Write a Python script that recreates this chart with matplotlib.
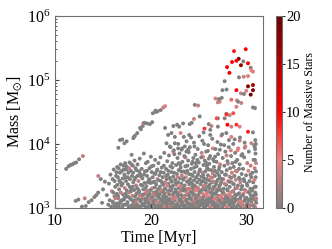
import numpy as np
import matplotlib
matplotlib.use('Agg')
import matplotlib.pyplot as plt
from matplotlib.colors import LinearSegmentedColormap

plt.rcParams['font.family'] = 'serif'
plt.rcParams['font.serif'] = ['Liberation Serif', 'DejaVu Serif']
plt.rcParams['mathtext.fontset'] = 'stix'

# ===============
# data: time [Myr], log10 mass [Msun], number of massive stars
# ===============
# early thin sequence
t_early = [11.15, 11.4, 11.6, 11.8, 12.0, 12.2, 12.5, 12.9]
m_early = [3.61, 3.65, 3.67, 3.68, 3.70, 3.71, 3.76, 3.81]
n_early = [0, 0, 0, 0, 0, 0, 0, 3]

# upper rising sequence
t_rise = [16.6, 16.77, 17.01, 17.23, 17.47, 17.99, 18.17, 18.23, 18.35, 18.58,
          18.87, 18.96, 19.15, 19.2, 19.32, 19.6, 19.9, 20.14, 20.2, 20.47,
          20.52, 20.7, 21.02, 21.3, 21.48]
m_rise = [3.94, 4.06, 4.07, 4.01, 4.04, 3.83, 4.09, 4.11, 4.13, 4.17,
          4.25, 4.23, 4.28, 4.32, 4.33, 4.32, 4.31, 4.34, 4.48, 4.52,
          4.50, 4.51, 4.53, 4.57, 4.59]
n_rise = [0, 0, 0, 0, 0, 0, 0, 0, 0, 0,
          0, 0, 0, 4, 0, 0, 0, 0, 0, 0,
          0, 0, 0, 3, 4]

# sparse low points on the left
t_left = [12.15, 12.43, 12.8, 13.1, 13.5, 13.8, 14.1, 14.3, 14.5, 14.5,
          14.76, 14.9, 15.0, 15.2, 13.2, 15.4]
m_left = [3.11, 3.13, 3.02, 3.15, 3.09, 3.12, 3.17, 3.20, 3.24, 3.50,
          3.45, 3.08, 3.29, 3.41, 3.03, 3.20]
n_left = [0, 0, 0, 3, 0, 0, 0, 0, 0, 3,
          0, 0, 0, 0, 0, 0]

# massive clusters at late times
t_top = [28.68, 29.9, 29.17, 28.93, 28.47, 29.65, 30.14, 29.4, 30.42, 27.95,
         30.49, 30.66, 28.2, 29.2, 29.69, 30.14, 27.7, 30.14, 30.66, 28.93,
         27.47, 30.66, 29.96, 29.4, 29.72, 30.42, 26.74, 27.19, 28.99, 29.44,
         30.66, 30.87]
m_top = [5.45, 5.48, 5.33, 5.30, 5.28, 5.29, 5.26, 5.23, 5.19, 5.20,
         5.15, 5.13, 5.11, 5.04, 5.05, 5.06, 4.98, 4.90, 4.92, 4.84,
         4.84, 4.84, 4.83, 4.79, 4.78, 4.77, 4.71, 4.66, 4.68, 4.64,
         4.57, 4.56]
n_top = [9, 10, 18, 11, 10, 0, 11, 17, 0, 10,
         5, 4, 11, 0, 3, 4, 0, 18, 16, 10,
         0, 18, 4, 3, 0, 19, 4, 4, 4, 3,
         0, 0]

# intermediate masses (1e4 - 5e4)
t_upper = [21.80, 22.15, 22.50, 22.74, 22.95, 23.36, 23.10, 23.44, 23.72, 24.00,
           21.63, 21.98, 22.32, 22.50, 22.84, 23.20, 23.54, 23.88, 24.58, 24.93,
           27.00, 27.10, 29.10, 28.93, 25.10, 24.50, 24.06, 26.04, 26.32, 27.00,
           27.88, 28.23, 27.70, 27.00, 27.99, 28.40, 28.93, 29.27, 30.14, 30.66,
           25.60, 27.36, 27.88, 28.40, 28.75, 29.27, 29.79, 30.49, 30.83, 21.48,
           26.87, 27.40, 27.90, 28.40, 27.90, 28.60, 25.50, 26.20, 24.26, 22.35]
m_upper = [4.14, 4.17, 4.11, 4.30, 4.27, 4.32, 4.17, 4.11, 4.04, 4.14,
           4.01, 3.96, 3.88, 4.01, 3.93, 3.91, 3.96, 3.91, 4.61, 4.60,
           4.65, 4.70, 4.66, 4.58, 4.43, 4.39, 4.31, 4.31, 4.28, 4.27,
           4.47, 4.45, 4.40, 4.40, 4.30, 4.27, 4.30, 4.27, 4.19, 4.18,
           4.24, 4.13, 4.17, 4.11, 4.07, 4.05, 4.02, 4.01, 3.96, 4.25,
           4.40, 4.72, 4.85, 4.69, 4.46, 4.48, 4.18, 4.22, 4.33, 4.28]
n_upper = [0, 0, 0, 0, 0, 0, 4, 0, 0, 0,
           0, 0, 5, 0, 0, 0, 0, 0, 0, 3,
           3, 0, 0, 4, 0, 3, 0, 0, 3, 0,
           0, 3, 0, 0, 10, 3, 8, 4, 9, 0,
           8, 3, 0, 4, 0, 3, 0, 3, 0, 0,
           7, 0, 0, 6, 8, 7, 0, 0, 0, 0]

# middle band (5e3 - 1.3e4)
t_mid = [22.05, 22.45, 22.85, 23.25, 23.60, 23.95, 24.20, 24.55, 24.85, 25.05,
         25.30, 25.55, 25.75, 25.95, 26.20, 26.45, 26.70, 26.95, 27.20, 27.45,
         27.65, 27.90, 28.15, 28.35, 28.60, 28.85, 29.05, 29.30, 29.55, 29.80,
         24.70, 25.85, 26.60, 23.05, 24.35, 25.45, 26.05, 27.15, 28.05, 29.20]
m_mid = [3.95, 3.84, 4.00, 3.93, 3.79, 3.87, 4.10, 3.96, 3.75, 4.12,
         3.86, 4.00, 3.71, 3.89, 4.14, 3.93, 3.80, 4.03, 3.91, 4.15,
         3.98, 3.82, 4.06, 3.90, 4.00, 3.72, 3.90, 4.10, 3.84, 3.94,
         3.70, 3.66, 3.73, 3.68, 3.72, 3.80, 3.77, 3.64, 3.69, 3.61]
n_mid = [0, 0, 0, 0, 3, 0, 0, 0, 0, 0,
         3, 0, 0, 0, 0, 4, 0, 0, 0, 0,
         0, 3, 0, 4, 0, 0, 5, 0, 0, 3,
         0, 0, 0, 0, 0, 4, 0, 0, 3, 0]

# dense low-mass cloud, 16 - 20 Myr
t_low1 = [15.55, 15.62, 15.70, 15.78, 15.85, 15.93, 16.00, 16.05, 16.12, 16.20,
          16.27, 16.33, 16.40, 16.45, 16.48,
          16.52, 16.55, 16.60, 16.63, 16.68, 16.72, 16.75, 16.80, 16.84, 16.88,
          16.93, 16.97, 17.02, 17.06, 17.10, 17.15, 17.19, 17.23, 17.28, 17.31,
          17.35, 17.40, 17.43, 17.47, 17.49,
          17.52, 17.56, 17.60, 17.64, 17.69, 17.73, 17.77, 17.81, 17.86, 17.90,
          17.94, 17.98, 18.03, 18.07, 18.11, 18.16, 18.20, 18.25, 18.29, 18.33,
          18.37, 18.41, 18.45, 18.48, 18.50,
          18.53, 18.57, 18.61, 18.66, 18.70, 18.74, 18.79, 18.83, 18.87, 18.91,
          18.95, 18.99, 19.04, 19.08, 19.12, 19.17, 19.21, 19.26, 19.30, 19.34,
          19.38, 19.42, 19.45, 19.48, 19.50]
m_low1 = [3.05, 3.38, 3.12, 3.52, 3.02, 3.26, 3.45, 3.08, 3.60, 3.18,
          3.33, 3.01, 3.56, 3.22, 3.64,
          3.04, 3.48, 3.15, 3.62, 3.29, 3.07, 3.55, 3.40, 3.68, 3.11,
          3.35, 3.58, 3.02, 3.46, 3.21, 3.66, 3.13, 3.52, 3.31, 3.70,
          3.05, 3.42, 3.60, 3.18, 3.27,
          3.63, 3.09, 3.37, 3.55, 3.01, 3.24, 3.71, 3.45, 3.14, 3.58,
          3.30, 3.04, 3.50, 3.19, 3.66, 3.40, 3.07, 3.28, 3.74, 3.12,
          3.47, 3.02, 3.35, 3.59, 3.22,
          3.05, 3.31, 3.68, 3.14, 3.42, 3.02, 3.25, 3.77, 3.53, 3.10,
          3.36, 3.20, 3.61, 3.04, 3.46, 3.16, 3.29, 3.85, 3.07, 3.39,
          3.57, 3.12, 3.23, 3.70, 3.01]
n_low1 = [0, 0, 0, 0, 0, 3, 0, 0, 0, 0,
          0, 0, 0, 0, 0,
          0, 0, 2, 0, 0, 0, 0, 0, 0, 0,
          0, 3, 0, 0, 0, 0, 0, 0, 3, 0,
          0, 0, 0, 0, 0,
          0, 0, 0, 0, 0, 3, 0, 0, 0, 0,
          0, 0, 0, 3, 0, 0, 0, 0, 0, 0,
          0, 0, 2, 0, 0,
          0, 0, 0, 0, 3, 0, 0, 0, 0, 0,
          0, 0, 0, 0, 0, 4, 0, 0, 0, 0,
          0, 0, 3, 0, 0]

# dense low-mass cloud, 19.5 - 23.5 Myr
t_low2 = [19.53, 19.56, 19.60, 19.63, 19.67, 19.71, 19.74, 19.78, 19.82, 19.85,
          19.89, 19.93, 19.96, 20.00, 20.04, 20.08, 20.11, 20.15, 20.19, 20.22,
          20.26, 20.30, 20.33, 20.37, 20.41, 20.44, 20.47, 20.49,
          20.52, 20.55, 20.59, 20.62, 20.65, 20.69, 20.72, 20.76, 20.79, 20.82,
          20.86, 20.89, 20.93, 20.96, 21.00, 21.03, 21.06, 21.10, 21.13, 21.17,
          21.20, 21.23, 21.27, 21.30, 21.34, 21.37, 21.40, 21.43, 21.46, 21.49,
          21.52, 21.55, 21.58, 21.61, 21.64, 21.68, 21.71, 21.74, 21.77, 21.80,
          21.83, 21.86, 21.89, 21.92, 21.95, 21.98, 22.01, 22.04, 22.07, 22.10,
          22.13, 22.16, 22.19, 22.22, 22.25, 22.28, 22.31, 22.34, 22.37, 22.40,
          22.43, 22.47,
          22.51, 22.54, 22.57, 22.60, 22.63, 22.66, 22.69, 22.72, 22.75, 22.78,
          22.81, 22.84, 22.87, 22.90, 22.93, 22.96, 22.99, 23.02, 23.05, 23.08,
          23.11, 23.14, 23.17, 23.20, 23.23, 23.26, 23.29, 23.32, 23.35, 23.38,
          23.41, 23.44, 23.47, 23.49, 23.50]
m_low2 = [3.34, 3.09, 3.50, 3.18, 3.72, 3.03, 3.27, 3.44, 3.13, 3.62,
          3.22, 3.05, 3.39, 3.80, 3.15, 3.56, 3.01, 3.31, 3.48, 3.10,
          3.66, 3.24, 3.07, 3.41, 3.19, 3.75, 3.53, 3.03,
          3.12, 3.37, 3.02, 3.58, 3.21, 3.45, 3.08, 3.29, 3.70, 3.16,
          3.04, 3.51, 3.33, 3.24, 3.79, 3.11, 3.42, 3.01, 3.63, 3.27,
          3.06, 3.48, 3.18, 3.36, 3.55, 3.09, 3.86, 3.22, 3.40, 3.14,
          3.30, 3.03, 3.61, 3.17, 3.45, 3.09, 3.73, 3.25, 3.52, 3.01,
          3.38, 3.13, 3.82, 3.21, 3.06, 3.47, 3.33, 3.65, 3.11, 3.27,
          3.56, 3.02, 3.41, 3.19, 3.70, 3.08, 3.35, 3.49, 3.15, 3.90,
          3.24, 3.04,
          3.12, 3.44, 3.29, 3.05, 3.67, 3.36, 3.18, 3.53, 3.01, 3.78,
          3.23, 3.40, 3.09, 3.59, 3.31, 3.14, 3.85, 3.46, 3.03, 3.26,
          3.63, 3.11, 3.38, 3.20, 3.51, 3.06, 3.72, 3.33, 3.16, 3.44,
          3.02, 3.57, 3.27, 3.81, 3.10]
n_low2 = [0, 0, 0, 0, 0, 0, 3, 0, 0, 0,
          0, 0, 0, 0, 0, 0, 0, 4, 0, 0,
          0, 0, 0, 0, 3, 0, 0, 0,
          0, 0, 0, 0, 0, 3, 0, 0, 0, 0,
          0, 0, 0, 4, 0, 0, 0, 0, 0, 0,
          3, 0, 0, 0, 0, 0, 0, 0, 3, 0,
          0, 0, 0, 0, 0, 0, 0, 3, 0, 0,
          0, 0, 0, 0, 3, 0, 0, 0, 0, 0,
          0, 0, 0, 4, 0, 0, 0, 0, 0, 0,
          0, 3,
          0, 0, 0, 0, 0, 3, 0, 0, 0, 0,
          0, 0, 3, 0, 0, 0, 0, 0, 0, 4,
          0, 0, 0, 0, 3, 0, 0, 0, 0, 0,
          0, 0, 0, 0, 5]

# dense low-mass cloud, 23.5 - 27.5 Myr
t_low3 = [23.53, 23.56, 23.59, 23.62, 23.65, 23.68, 23.71, 23.74, 23.77, 23.80,
          23.83, 23.86, 23.89, 23.92, 23.95, 23.98, 24.01, 24.04, 24.07, 24.10,
          24.13, 24.16, 24.19, 24.22, 24.25, 24.28, 24.31, 24.34, 24.37, 24.40,
          24.43, 24.46, 24.48, 24.49, 24.50,
          24.53, 24.56, 24.59, 24.62, 24.65, 24.68, 24.71, 24.74, 24.77, 24.80,
          24.83, 24.86, 24.89, 24.92, 24.95, 24.98, 25.01, 25.04, 25.07, 25.10,
          25.13, 25.16, 25.19, 25.22, 25.25, 25.28, 25.31, 25.34, 25.37, 25.40,
          25.43, 25.46, 25.48, 25.49, 25.50,
          25.53, 25.56, 25.59, 25.62, 25.65, 25.68, 25.71, 25.74, 25.77, 25.80,
          25.83, 25.86, 25.89, 25.92, 25.95, 25.98, 26.01, 26.04, 26.07, 26.10,
          26.13, 26.16, 26.19, 26.22, 26.25, 26.28, 26.31, 26.34, 26.37, 26.40,
          26.43, 26.46, 26.48, 26.49, 26.50,
          26.53, 26.56, 26.59, 26.62, 26.65, 26.68, 26.71, 26.74, 26.77, 26.80,
          26.83, 26.86, 26.89, 26.92, 26.95, 26.98, 27.01, 27.04, 27.07, 27.10,
          27.13, 27.16, 27.19, 27.22, 27.25, 27.28, 27.31, 27.34, 27.37, 27.40,
          27.44, 27.48, 27.50]
m_low3 = [3.35, 3.19, 3.65, 3.04, 3.48, 3.27, 3.88, 3.13, 3.41, 3.58,
          3.08, 3.30, 3.74, 3.22, 3.01, 3.53, 3.37, 3.15, 3.95, 3.45,
          3.25, 3.06, 3.61, 3.39, 3.12, 3.69, 3.32, 3.02, 3.50, 3.18,
          3.78, 3.28, 3.09, 3.43, 4.02,
          3.21, 3.56, 3.04, 3.34, 3.83, 3.14, 3.47, 3.27, 3.65, 3.07,
          3.40, 3.19, 3.92, 3.52, 3.01, 3.30, 3.71, 3.11, 3.44, 3.24,
          3.60, 3.05, 3.37, 3.16, 3.79, 3.49, 3.09, 3.28, 4.05, 3.55,
          3.13, 3.42, 3.02, 3.67, 3.33,
          3.18, 3.46, 3.03, 3.74, 3.29, 3.57, 3.10, 3.39, 3.88, 3.22,
          3.05, 3.62, 3.33, 3.15, 3.51, 3.98, 3.26, 3.08, 3.43, 3.69,
          3.36, 3.12, 3.81, 3.01, 3.48, 3.24, 3.59, 3.17, 3.40, 4.08,
          3.06, 3.54, 3.29, 3.76, 3.14,
          3.41, 3.09, 3.64, 3.23, 3.02, 3.50, 3.31, 3.92, 3.15, 3.37,
          3.06, 3.72, 3.26, 3.55, 3.11, 3.44, 3.84, 3.19, 3.03, 3.60,
          3.33, 3.13, 3.47, 3.68, 3.08, 3.28, 3.99, 3.40, 3.17, 3.56,
          3.01, 3.24, 3.78]
n_low3 = [0, 0, 0, 0, 3, 0, 0, 0, 0, 0,
          0, 3, 0, 0, 0, 0, 0, 0, 0, 0,
          0, 0, 0, 0, 4, 0, 0, 0, 0, 3,
          0, 0, 0, 0, 0,
          0, 0, 3, 0, 0, 0, 0, 4, 0, 0,
          0, 0, 0, 0, 0, 3, 0, 0, 0, 0,
          0, 0, 0, 5, 0, 0, 0, 0, 0, 3,
          0, 0, 0, 0, 0,
          0, 0, 0, 0, 3, 0, 0, 0, 0, 4,
          0, 0, 0, 0, 0, 0, 3, 0, 0, 0,
          0, 0, 0, 0, 4, 0, 0, 0, 0, 0,
          0, 3, 0, 0, 0,
          3, 0, 0, 0, 0, 0, 4, 0, 0, 0,
          0, 0, 0, 0, 3, 0, 0, 0, 6, 0,
          0, 0, 0, 3, 0, 0, 0, 0, 4, 0,
          0, 0, 0]

# dense low-mass cloud, 27.5 - 31 Myr
t_low4 = [27.53, 27.57, 27.60, 27.64, 27.67, 27.71, 27.74, 27.78, 27.81, 27.85,
          27.88, 27.92, 27.95, 27.99, 28.02, 28.06, 28.09, 28.13, 28.16, 28.20,
          28.23, 28.27, 28.30, 28.33, 28.37, 28.40, 28.43, 28.46, 28.48, 28.50,
          28.54, 28.57, 28.61, 28.65, 28.68, 28.72, 28.76, 28.79, 28.83, 28.87,
          28.90, 28.94, 28.98, 29.01, 29.05, 29.09, 29.12, 29.16, 29.20, 29.23,
          29.27, 29.31, 29.34, 29.38, 29.42, 29.45, 29.48, 29.50,
          29.54, 29.58, 29.62, 29.66, 29.70, 29.74, 29.78, 29.82, 29.86, 29.90,
          29.94, 29.98, 30.02, 30.06, 30.10, 30.14, 30.18, 30.22, 30.26, 30.30,
          30.34, 30.38, 30.42, 30.45, 30.48, 30.50,
          30.55, 30.60, 30.64, 30.68, 30.72, 30.76, 30.80, 30.84, 30.87, 30.90,
          30.92, 30.94, 30.96, 30.98, 31.00, 30.88, 30.93, 30.97, 30.91, 30.95]
m_low4 = [3.12, 3.45, 3.30, 3.04, 3.66, 3.21, 3.52, 3.88, 3.09, 3.36,
          3.18, 3.59, 3.02, 3.73, 3.27, 3.42, 3.14, 3.95, 3.06, 3.49,
          3.33, 3.62, 3.10, 3.24, 3.81, 3.01, 3.40, 3.55, 3.17, 3.70,
          3.08, 3.38, 3.26, 3.64, 3.03, 3.50, 3.15, 3.86, 3.31, 3.44,
          3.20, 3.01, 3.57, 3.75, 3.12, 3.35, 3.93, 3.06, 3.47, 3.23,
          3.68, 3.14, 3.40, 3.02, 3.29, 3.82, 3.53, 3.10,
          3.34, 3.05, 3.61, 3.22, 3.45, 3.79, 3.11, 3.28, 3.96, 3.02,
          3.51, 3.16, 3.38, 3.70, 3.07, 3.25, 3.58, 3.88, 3.13, 3.42,
          3.03, 3.30, 3.66, 3.19, 3.48, 3.09,
          3.27, 3.55, 3.04, 3.40, 3.75, 3.14, 3.98, 3.62, 3.33, 4.06,
          3.85, 3.48, 3.21, 3.70, 3.08, 3.92, 3.12, 3.57, 3.01, 4.00]
n_low4 = [0, 3, 0, 0, 0, 4, 0, 0, 0, 0,
          0, 0, 3, 0, 0, 5, 0, 0, 0, 3,
          0, 0, 0, 4, 0, 0, 0, 3, 0, 0,
          0, 4, 0, 0, 3, 0, 0, 0, 0, 3,
          0, 0, 3, 0, 0, 0, 4, 0, 0, 3,
          0, 0, 3, 0, 0, 0, 0, 5,
          0, 3, 0, 4, 0, 0, 0, 0, 3, 0,
          0, 0, 0, 3, 0, 0, 4, 0, 0, 0,
          0, 0, 3, 0, 0, 0,
          0, 0, 3, 0, 0, 0, 0, 3, 0, 0,
          0, 0, 0, 3, 0, 0, 0, 0, 4, 0]

# extra low-mass clusters filling the cloud, 16 - 23.3 Myr
t_fill1 = [16.02, 16.08, 16.15, 16.22, 16.30, 16.36, 16.43, 16.50, 16.57, 16.65,
           16.71, 16.78, 16.86, 16.91, 16.99, 17.05, 17.12, 17.17, 17.25, 17.33,
           17.38, 17.45, 17.54, 17.58, 17.66, 17.71, 17.79, 17.84, 17.92, 17.97,
           18.05, 18.09, 18.14, 18.22, 18.27, 18.35, 18.39, 18.47, 18.55, 18.59,
           18.64, 18.72, 18.77, 18.85, 18.93, 18.97, 19.02, 19.10, 19.15, 19.23,
           19.28, 19.36, 19.40, 19.47, 19.55, 19.58, 19.65, 19.69, 19.76, 19.80,
           19.87, 19.91, 19.98, 20.02, 20.06, 20.13, 20.17, 20.24, 20.28, 20.35,
           20.39, 20.43, 20.50, 20.57, 20.61, 20.67, 20.74, 20.78, 20.84, 20.91,
           20.98, 21.02, 21.08, 21.15, 21.19, 21.25, 21.32, 21.36, 21.42, 21.47,
           21.54, 21.60, 21.66, 21.70, 21.76, 21.82, 21.88, 21.94, 21.99, 22.06,
           22.11, 22.18, 22.24, 22.29, 22.36, 22.42, 22.48, 22.55, 22.61, 22.67,
           22.73, 22.80, 22.86, 22.92, 22.98, 23.04, 23.10, 23.16, 23.22, 23.28]
m_fill1 = [3.10, 3.24, 3.03, 3.42, 3.15, 3.50, 3.07, 3.36, 3.19, 3.02,
           3.43, 3.09, 3.24, 3.57, 3.12, 3.38, 3.05, 3.60, 3.16, 3.48,
           3.22, 3.65, 3.06, 3.48, 3.17, 3.62, 3.33, 3.02, 3.26, 3.68,
           3.12, 3.33, 3.55, 3.01, 3.44, 3.18, 3.62, 3.09, 3.23, 3.50,
           3.04, 3.28, 3.57, 3.19, 3.02, 3.49, 3.13, 3.35, 3.06, 3.21,
           3.52, 3.03, 3.30, 3.14, 3.25, 3.58, 3.01, 3.40, 3.20, 3.08,
           3.45, 3.13, 3.28, 3.02, 3.65, 3.17, 3.40, 3.05, 3.22, 3.54,
           3.12, 3.32, 3.01, 3.25, 3.09, 3.60, 3.18, 3.43, 3.02, 3.21,
           3.14, 3.56, 3.28, 3.05, 3.38, 3.13, 3.24, 3.66, 3.02, 3.30,
           3.16, 3.50, 3.06, 3.35, 3.12, 3.58, 3.27, 3.14, 3.02, 3.44,
           3.07, 3.31, 3.63, 3.13, 3.22, 3.55, 3.01, 3.16, 3.39, 3.25,
           3.06, 3.48, 3.20, 3.70, 3.02, 3.13, 3.34, 3.57, 3.09, 3.28]
n_fill1 = [0, 0, 0, 0, 3, 0, 0, 0, 0, 0,
           0, 0, 3, 0, 0, 0, 0, 0, 0, 0,
           0, 0, 0, 0, 0, 3, 0, 0, 0, 0,
           0, 0, 0, 0, 0, 0, 0, 3, 0, 0,
           0, 0, 0, 3, 0, 0, 0, 0, 0, 0,
           0, 0, 0, 0, 3, 0, 0, 0, 0, 0,
           0, 3, 0, 0, 0, 0, 0, 0, 3, 0,
           0, 0, 0, 0, 4, 0, 0, 0, 0, 0,
           0, 0, 3, 0, 0, 0, 0, 0, 3, 0,
           0, 0, 0, 4, 0, 0, 0, 0, 3, 0,
           0, 0, 0, 3, 0, 0, 0, 4, 0, 0,
           0, 3, 0, 0, 0, 0, 4, 0, 0, 0]

# extra low-mass clusters filling the cloud, 23.3 - 31 Myr
t_fill2 = [23.33, 23.39, 23.45, 23.52, 23.58, 23.63, 23.69, 23.75, 23.81, 23.87,
           23.93, 23.99, 24.05, 24.11, 24.17, 24.23, 24.29, 24.35, 24.41, 24.47,
           24.52, 24.58, 24.64, 24.70, 24.76, 24.82, 24.88, 24.94, 25.00, 25.06,
           25.12, 25.18, 25.24, 25.30, 25.36, 25.42, 25.47, 25.54, 25.60, 25.66,
           25.72, 25.78, 25.84, 25.90, 25.96, 26.02, 26.08, 26.14, 26.20, 26.26,
           26.32, 26.38, 26.44, 26.51, 26.57, 26.63, 26.69, 26.75, 26.81, 26.87,
           26.93, 26.99, 27.05, 27.11, 27.17, 27.23, 27.29, 27.35, 27.41, 27.47,
           27.55, 27.62, 27.68, 27.76, 27.83, 27.90, 27.97, 28.04, 28.11, 28.18,
           28.25, 28.32, 28.39, 28.45, 28.52, 28.59, 28.66, 28.73, 28.80, 28.86,
           28.92, 28.99, 29.07, 29.14, 29.21, 29.29, 29.36, 29.43, 29.51, 29.59,
           29.67, 29.75, 29.83, 29.91, 29.99, 30.07, 30.15, 30.23, 30.31, 30.39,
           30.46, 30.53, 30.61, 30.69, 30.75, 30.82, 30.89, 30.95, 30.99, 30.86]
m_fill2 = [3.05, 3.46, 3.17, 3.29, 3.02, 3.55, 3.12, 3.24, 3.66, 3.08,
           3.42, 3.19, 3.03, 3.30, 3.14, 3.52, 3.05, 3.23, 3.36, 3.11,
           3.63, 3.01, 3.28, 3.15, 3.48, 3.09, 3.32, 3.20, 3.02, 3.57,
           3.16, 3.26, 3.05, 3.41, 3.13, 3.22, 3.51, 3.07, 3.35, 3.01,
           3.28, 3.12, 3.45, 3.04, 3.19, 3.60, 3.14, 3.31, 3.02, 3.24,
           3.10, 3.47, 3.19, 3.05, 3.33, 3.14, 3.58, 3.22, 3.01, 3.41,
           3.16, 3.28, 3.03, 3.51, 3.11, 3.36, 3.19, 3.07, 3.45, 3.13,
           3.24, 3.06, 3.38, 3.15, 3.52, 3.02, 3.29, 3.11, 3.20, 3.41,
           3.05, 3.18, 3.47, 3.12, 3.26, 3.03, 3.37, 3.09, 3.21, 3.58,
           3.13, 3.31, 3.04, 3.22, 3.10, 3.45, 3.17, 3.06, 3.34, 3.20,
           3.03, 3.42, 3.15, 3.26, 3.05, 3.35, 3.12, 3.01, 3.23, 3.52,
           3.14, 3.06, 3.30, 3.19, 3.03, 3.44, 3.24, 3.33, 3.15, 3.75]
n_fill2 = [0, 0, 3, 0, 0, 0, 0, 4, 0, 0,
           0, 0, 0, 3, 0, 0, 0, 0, 0, 3,
           0, 0, 4, 0, 0, 0, 3, 0, 0, 0,
           3, 0, 0, 0, 0, 4, 0, 0, 3, 0,
           0, 0, 0, 0, 5, 0, 0, 0, 3, 0,
           0, 3, 0, 0, 0, 4, 0, 0, 0, 0,
           3, 0, 0, 0, 0, 0, 4, 0, 0, 3,
           0, 0, 3, 0, 0, 4, 0, 0, 3, 0,
           0, 4, 0, 0, 3, 0, 0, 0, 0, 3,
           0, 3, 0, 0, 4, 0, 0, 3, 0, 0,
           3, 0, 0, 4, 0, 0, 0, 3, 0, 0,
           0, 3, 0, 0, 0, 4, 0, 0, 3, 0]

groups = [(t_early, m_early, n_early), (t_rise, m_rise, n_rise),
          (t_left, m_left, n_left), (t_top, m_top, n_top),
          (t_upper, m_upper, n_upper), (t_mid, m_mid, n_mid),
          (t_low1, m_low1, n_low1), (t_low2, m_low2, n_low2),
          (t_low3, m_low3, n_low3), (t_low4, m_low4, n_low4),
          (t_fill1, m_fill1, n_fill1), (t_fill2, m_fill2, n_fill2)]

time, mass, nmassive = [], [], []
for t, m, n in groups:
    k = min(len(t), len(m), len(n))
    if not (len(t) == len(m) == len(n)):
        print('length mismatch', len(t), len(m), len(n))
    time += list(t[:k])
    mass += list(m[:k])
    nmassive += list(n[:k])

time = np.array(time)
mass = 10 ** np.array(mass)
nmassive = np.array(nmassive)

cmap = LinearSegmentedColormap.from_list(
    'greyred', [(0.0, '#808080'), (0.25, '#f08080'), (0.5, '#ff0000'), (1.0, '#6a0000')])

fig = plt.figure(figsize=(3.32, 2.49), dpi=100)
ax = fig.add_axes([0.166, 0.165, 0.626, 0.771])
cax = fig.add_axes([0.831, 0.165, 0.018, 0.771])

sc = ax.scatter(time, mass, c=nmassive, cmap=cmap, vmin=0, vmax=20,
                s=8, linewidths=0)
ax.set_yscale('log')
ax.set_xlim(10, 31.7)
ax.set_ylim(1e3, 1e6)
ax.set_xticks([10, 20, 30])
ax.set_xlabel('Time [Myr]', fontsize=11.5, labelpad=1)
ax.set_ylabel(r'Mass [M$_{\odot}$]', fontsize=11.5, labelpad=2)
ax.tick_params(which='both', direction='in', labelsize=11.5, colors='#404040',
               labelcolor='black')
ax.tick_params(which='major', length=3)
ax.tick_params(which='minor', length=1.5)
for sp in ax.spines.values():
    sp.set_color('#707070')

cb = fig.colorbar(sc, cax=cax)
cb.set_ticks([0, 5, 10, 15, 20])
cb.ax.tick_params(labelsize=10.5, length=2, width=0.6, pad=1)
cb.set_label('Number of Massive Stars', fontsize=8.5, labelpad=2)
cb.outline.set_edgecolor('#707070')

fig.savefig('out.png', dpi=100)
